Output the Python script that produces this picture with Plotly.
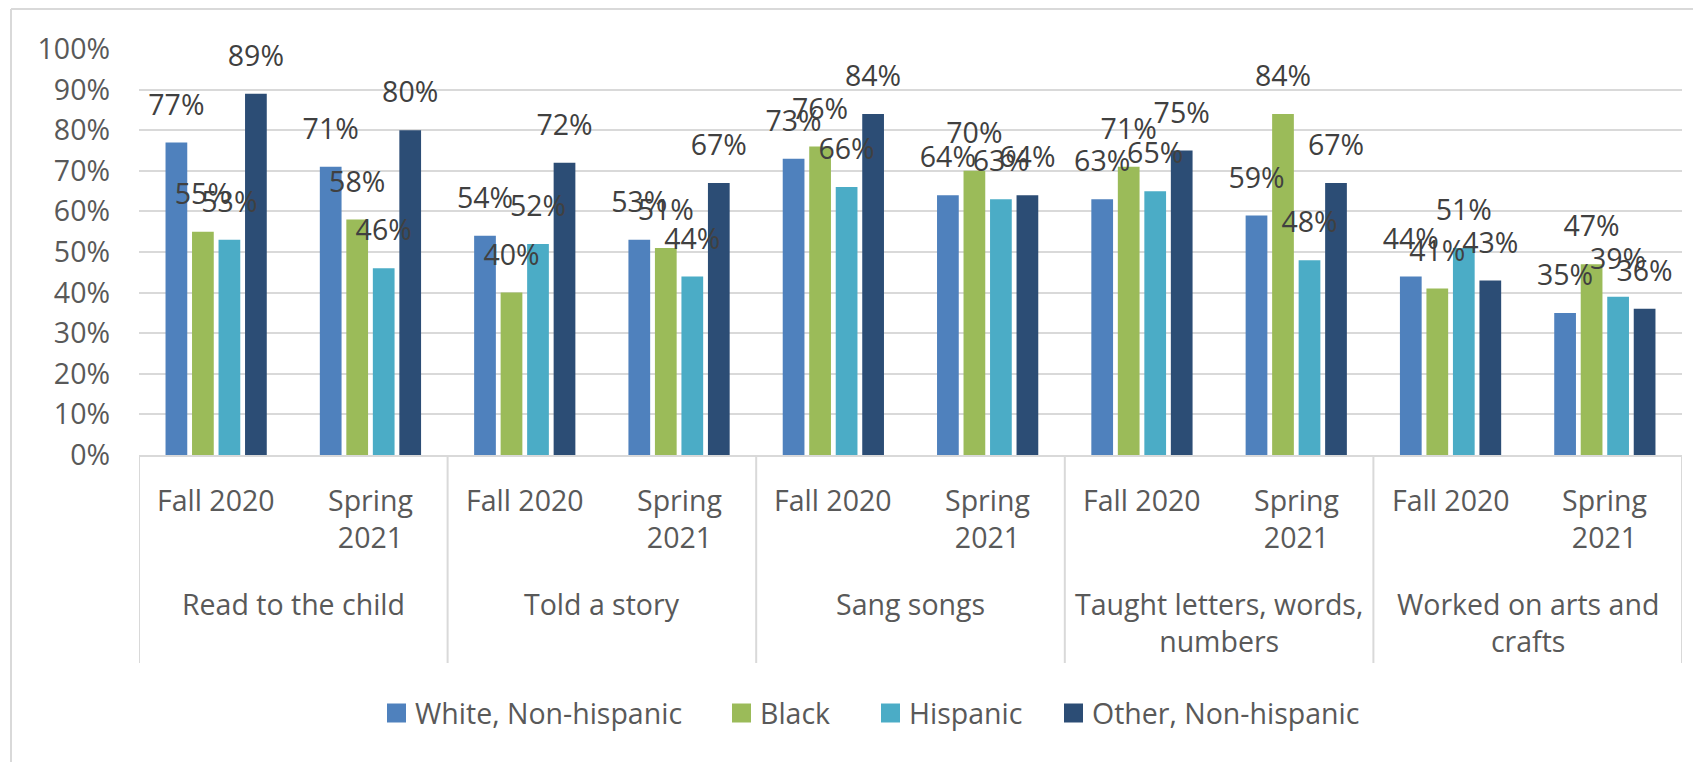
import plotly.graph_objects as go

# ---------------- data ----------------
SERIES = ["White, Non-hispanic", "Black", "Hispanic", "Other, Non-hispanic"]
ACTIVITIES = ["Read to the child", "Told a story", "Sang songs",
              "Taught letters, words,<br>numbers", "Worked on arts and<br>crafts"]
PERIODS = ["Fall 2020", "Spring<br>2021"]

white = [77, 71, 54, 53, 73, 64, 63, 59, 44, 35]
black = [55, 58, 40, 51, 76, 70, 71, 84, 41, 47]
hispanic = [53, 46, 52, 44, 66, 63, 65, 48, 51, 39]
other = [89, 80, 72, 67, 84, 64, 75, 67, 43, 36]

COLORS = ["#4F81BD", "#9BBB59", "#4BACC6", "#2C4D75"]

# ---------------- layout constants ----------------
# the page body has an 8px default margin, so the figure is drawn 8px in
PAGE_OFF = 8
W, H = 1701 - PAGE_OFF, 762 - PAGE_OFF
PLOT_L, PLOT_R, PLOT_T, PLOT_B = 139, 1682, 49, 455   # page pixels
ML = PLOT_L - PAGE_OFF
MT = PLOT_T - PAGE_OFF
PW, PH = PLOT_R - PLOT_L, PLOT_B - PLOT_T
MR = W - ML - PW
MB = H - MT - PH
FONT = "Open Sans, Noto Sans, sans-serif"
FS = 28.5
AXIS_COLOR = "#595959"
LABEL_COLOR = "#404040"
GRID = "#D9D9D9"
BARGAP = 0.313
BARGROUPGAP = 0.18
LABEL_LIFT = 35 / PH  # label centre above bar top (in axis units)

# legend entry left edges (page px) and swatch size
LEGEND_X = [387, 732, 881, 1064]
LEGEND_Y = 713
SWATCH = 19


def py(px):
    """page pixel y -> paper y"""
    return (PLOT_B - px) / PH


def pxx(px):
    """page pixel x -> paper x"""
    return (px - PLOT_L) / PW


n_slots = len(ACTIVITIES) * len(PERIODS)
slots = list(range(n_slots))

fig = go.Figure()
values = [white, black, hispanic, other]
for k, (name, vals, col) in enumerate(zip(SERIES, values, COLORS)):
    fig.add_trace(go.Bar(
        x=slots, y=[v / 100 for v in vals], name=name,
        marker=dict(color=col, line=dict(width=0)), showlegend=False,
    ))

# data labels (scatter text, aligned with grouped bar centres)
sub = (1 - BARGAP) / len(SERIES)
for k, vals in enumerate(values):
    off = (k - (len(SERIES) - 1) / 2) * sub
    fig.add_trace(go.Scatter(
        x=[s + off for s in slots], y=[v / 100 + LABEL_LIFT for v in vals],
        mode="text", text=[f"{v}%" for v in vals],
        textfont=dict(family=FONT, size=FS, color=LABEL_COLOR),
        textposition="middle center", showlegend=False, hoverinfo="skip",
        cliponaxis=False,
    ))

shapes = []
annotations = []
# period labels
for i, s in enumerate(slots):
    annotations.append(dict(
        x=s, y=py(479), xref="x", yref="paper", text=PERIODS[i % len(PERIODS)],
        showarrow=False, xanchor="center", yanchor="top",
        font=dict(family=FONT, size=FS, color=AXIS_COLOR), align="center",
    ))
# activity labels
for g, act in enumerate(ACTIVITIES):
    centre = g * len(PERIODS) + (len(PERIODS) - 1) / 2
    annotations.append(dict(
        x=centre, y=py(583), xref="x", yref="paper", text=act,
        showarrow=False, xanchor="center", yanchor="top",
        font=dict(family=FONT, size=FS, color=AXIS_COLOR), align="center",
    ))
# category dividers
for g in range(len(ACTIVITIES) + 1):
    xv = g * len(PERIODS) - 0.5
    shapes.append(dict(type="line", xref="x", yref="paper", x0=xv, x1=xv,
                       y0=0, y1=py(663), line=dict(color=GRID, width=2)))
# legend (swatches + labels)
for name, col, lx in zip(SERIES, COLORS, LEGEND_X):
    shapes.append(dict(type="rect", xref="paper", yref="paper",
                       x0=pxx(lx), x1=pxx(lx + SWATCH),
                       y0=py(LEGEND_Y + SWATCH / 2), y1=py(LEGEND_Y - SWATCH / 2),
                       fillcolor=col, line=dict(width=0)))
    annotations.append(dict(
        x=pxx(lx + SWATCH + 7), y=py(LEGEND_Y), xref="paper", yref="paper",
        text=name, showarrow=False, xanchor="left", yanchor="middle",
        font=dict(family=FONT, size=FS, color=AXIS_COLOR),
    ))
# chart border (only the left and top edges fall inside the picture)
shapes.append(dict(type="line", xref="paper", yref="paper",
                   x0=pxx(11), x1=pxx(11), y0=py(800), y1=py(9),
                   line=dict(color=GRID, width=2), layer="below"))
shapes.append(dict(type="line", xref="paper", yref="paper",
                   x0=pxx(11), x1=pxx(1750), y0=py(9), y1=py(9),
                   line=dict(color=GRID, width=2), layer="below"))

fig.update_layout(
    width=W, height=H,
    margin=dict(l=ML, r=MR, t=MT, b=MB, autoexpand=False),
    paper_bgcolor="white", plot_bgcolor="white",
    barmode="group", bargap=BARGAP, bargroupgap=BARGROUPGAP,
    font=dict(family=FONT, size=FS, color=AXIS_COLOR),
    showlegend=False,
    xaxis=dict(range=[-0.5, n_slots - 0.5], showticklabels=False,
               showgrid=False, zeroline=False, showline=True,
               linecolor=GRID, linewidth=2, fixedrange=True),
    yaxis=dict(range=[0, 1.0001], dtick=0.1, tickformat=".0%",
               showgrid=True, gridcolor=GRID, gridwidth=2, zeroline=False,
               showline=False, ticks="", ticklabelstandoff=28,
               tickfont=dict(family=FONT, size=FS, color=AXIS_COLOR),
               fixedrange=True),
    shapes=shapes, annotations=annotations,
)

fig.write_html("out.html")
